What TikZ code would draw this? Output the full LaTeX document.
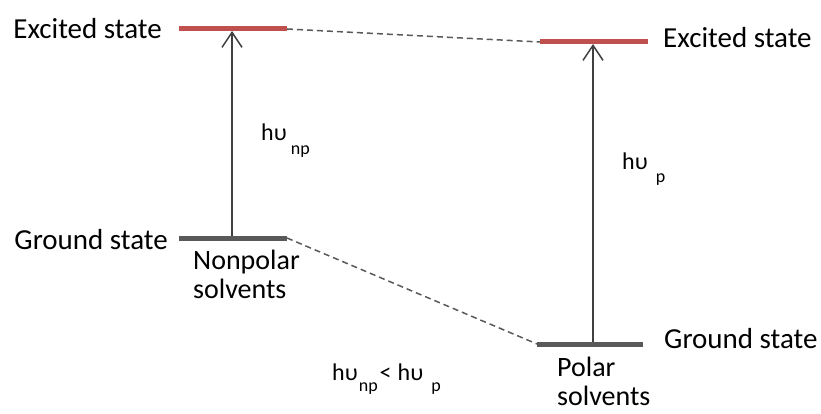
\documentclass[tikz,border=0pt]{standalone}
\usepackage{fontspec}
\setmainfont{Carlito}
\usetikzlibrary{arrows.meta}
\definecolor{exc}{HTML}{C0504D}
\definecolor{gnd}{HTML}{595959}
\definecolor{arr}{HTML}{404040}
\newcommand{\subtxt}[2][14pt]{\raisebox{-#1}{\fontsize{18}{18}\selectfont #2}}
\begin{document}
\begin{tikzpicture}[x=1pt,y=-1pt,
  lbl/.style={font=\fontsize{29}{34}\selectfont, inner sep=0pt},
  slbl/.style={font=\fontsize{28}{29}\selectfont, inner sep=0pt, align=left},
  hlbl/.style={font=\fontsize{24}{26}\selectfont, inner sep=0pt},
  exclevel/.style={draw=exc, line width=5pt},
  gndlevel/.style={draw=gnd, line width=5pt},
  trans/.style={draw=arr, line width=1.5pt, -{Straight Barb[length=15pt,width=20pt,line width=1.5pt]}},
  link/.style={draw=gnd, line width=1.5pt, dash pattern=on 6pt off 4pt}]
\useasboundingbox (0,0) rectangle (821,414);
% levels
\coordinate (e1a) at (179,29); \coordinate (e1b) at (287,29);
\coordinate (e2a) at (540,42); \coordinate (e2b) at (648,42);
\coordinate (g1a) at (179,238); \coordinate (g1b) at (287,238);
\coordinate (g2a) at (537,344); \coordinate (g2b) at (643,344);
\coordinate (a1s) at (232,236); \coordinate (a1e) at (232,31);
\coordinate (a2s) at (593,342); \coordinate (a2e) at (593,44);
\draw[link] (e1b) -- (e2a);
\draw[link] (g1b) -- (g2a);
\draw[trans] (a1s) -- (a1e);
\draw[trans] (a2s) -- (a2e);
\draw[exclevel] (e1a) -- (e1b);
\draw[exclevel] (e2a) -- (e2b);
\draw[gndlevel] (g1a) -- (g1b);
\draw[gndlevel] (g2a) -- (g2b);
% labels
\node[lbl, anchor=east] (t1) at (162,29) {Excited state};
\node[lbl, anchor=west] (t2) at (663,38) {Excited state};
\node[lbl, anchor=east] (t3) at (168,240) {Ground state};
\node[lbl, anchor=west] (t4) at (664,339) {Ground state};
\node[hlbl, anchor=base west] (hnp) at (261,141) {hυ\hspace{4pt}\subtxt[14pt]{np}};
\node[hlbl, anchor=base west] (hp) at (622,170) {hυ\hspace{8pt}\subtxt[13pt]{p}};
\node[slbl, anchor=base west] (np) at (193,298) {Nonpolar\\solvents};
\node[slbl, anchor=base west] (pp) at (557,405) {Polar\\solvents};
\node[hlbl, anchor=base west] (cmp) at (332,380) {hυ\hspace{1pt}\subtxt[11pt]{np}\hspace{2pt}<\hspace{6pt}hυ\hspace{8pt}\subtxt[11pt]{p}};
\end{tikzpicture}
\end{document}
